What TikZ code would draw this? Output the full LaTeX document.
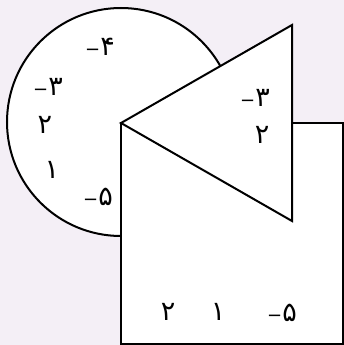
\documentclass[tikz,border=0pt]{standalone}
\usepackage{fontspec}
\newfontfamily\arabicfont[Script=Arabic]{DejaVu Sans}
\newfontfamily\minusfont{DejaVu Sans}
\newcommand{\mn}{{\minusfont\fontsize{18}{20}\selectfont −}}
\definecolor{bgcol}{RGB}{244,239,246}
\begin{document}
\begin{tikzpicture}[x=1pt,y=-1pt,
  figshape/.style={draw=black,fill=white,line width=2pt,line join=miter},
  num/.style={font=\arabicfont\fontsize{27}{29}\selectfont,inner sep=0pt}]
\fill[bgcol] (0,0) rectangle (344,345);
\useasboundingbox (0,0) rectangle (344,345);
\coordinate (C) at (121,122);
\draw[figshape] (C) circle (114);
\coordinate (SQtl) at (121,123);
\coordinate (SQbr) at (342.5,343.5);
\draw[figshape] (SQtl) rectangle (SQbr);
\coordinate (A) at (121,123);
\coordinate (T1) at (292,25);
\coordinate (T2) at (292,221);
\draw[figshape] (A) -- (T1) -- (T2) -- cycle;
\node[num] (c4) at (100,47) {\mn{}۴};
\node[num] (c3) at (48,87) {\mn{}۳};
\node[num] (c2) at (45,125) {۲};
\node[num] (c1) at (52,170) {۱};
\node[num] (c5) at (98,197) {\mn{}۵};
\node[num] (t3) at (255,98) {\mn{}۳};
\node[num] (t2) at (262,135) {۲};
\node[num] (s2) at (168,312) {۲};
\node[num] (s1) at (218,312) {۱};
\node[num] (s5) at (282,313) {\mn{}۵};
\end{tikzpicture}
\end{document}
